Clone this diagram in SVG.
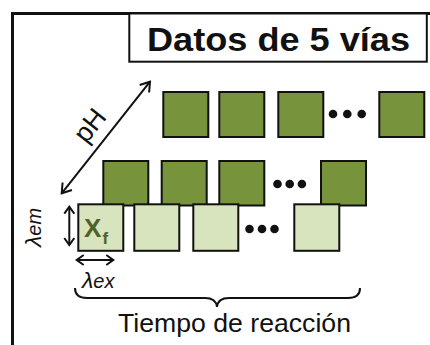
<svg xmlns="http://www.w3.org/2000/svg" width="430" height="345" viewBox="0 0 430 345">
<style>
.dk{fill:#77933C;stroke:#111;stroke-width:2}
.lt{fill:#D7E4BD;stroke:#111;stroke-width:2}
.dot{fill:#111}
.ln{stroke:#111;stroke-width:2;fill:none}
.t{font-family:"Liberation Sans",Arial,sans-serif;fill:#111}
</style>
<defs>
<marker id="ah" markerUnits="userSpaceOnUse" markerWidth="14" markerHeight="14" refX="11" refY="7" orient="auto-start-reverse" viewBox="0 0 14 14">
<path d="M2,1 L11,7 L2,13" fill="none" stroke="#111" stroke-width="2"/>
</marker>
<marker id="as" markerUnits="userSpaceOnUse" markerWidth="12" markerHeight="12" refX="9" refY="6" orient="auto-start-reverse" viewBox="0 0 12 12">
<path d="M2,1 L9,6 L2,11" fill="none" stroke="#111" stroke-width="2"/>
</marker>
</defs>
<rect width="430" height="345" fill="#fff"/>
<g id="frame">
<path d="M12.5,345 V13.5 H430" fill="none" stroke="#111" stroke-width="3"/>
</g>
<g id="title">
<rect x="129.3" y="13.5" width="297.5" height="48.2" fill="#fff" stroke="#111" stroke-width="2"/>
<text class="t" x="147" y="50.5" font-size="34" font-weight="bold" textLength="263" lengthAdjust="spacingAndGlyphs">Datos de 5 vías</text>
</g>
<g id="row3">
<rect class="dk" x="163.3" y="92" width="45" height="45"/>
<rect class="dk" x="219.3" y="92" width="45" height="45"/>
<rect class="dk" x="278.3" y="92" width="45" height="45"/>
<circle class="dot" cx="333" cy="114" r="4.3"/>
<circle class="dot" cx="347.3" cy="114" r="4.3"/>
<circle class="dot" cx="361.7" cy="114" r="4.3"/>
<rect class="dk" x="379.3" y="92" width="45" height="45"/>
</g>
<g id="row2">
<rect class="dk" x="103.3" y="161" width="45" height="44.5"/>
<rect class="dk" x="161.7" y="161" width="45" height="44.5"/>
<rect class="dk" x="219.3" y="161" width="45" height="44.5"/>
<circle class="dot" cx="277.5" cy="184" r="4.3"/>
<circle class="dot" cx="289.7" cy="184" r="4.3"/>
<circle class="dot" cx="301.9" cy="184" r="4.3"/>
<rect class="dk" x="321" y="161" width="45" height="44.5"/>
</g>
<g id="row1">
<rect class="lt" x="78.3" y="204.3" width="45" height="46.5"/>
<rect class="lt" x="134.3" y="204.3" width="45" height="46.5"/>
<rect class="lt" x="193.3" y="204.3" width="45" height="46.5"/>
<circle class="dot" cx="249.5" cy="229" r="4.3"/>
<circle class="dot" cx="262" cy="229" r="4.3"/>
<circle class="dot" cx="274.5" cy="229" r="4.3"/>
<rect class="lt" x="294.3" y="204.3" width="45" height="46.5"/>
<text class="t" x="84" y="237" font-size="26" font-weight="bold" style="fill:#4F6228">X</text>
<text class="t" x="102.5" y="243.5" font-size="17" font-weight="bold" style="fill:#4F6228">f</text>
</g>
<g id="connectors">
<line class="ln" x1="61.7" y1="193.3" x2="150" y2="81.7" marker-start="url(#ah)" marker-end="url(#ah)"/>
<line class="ln" x1="69.3" y1="206.7" x2="69.3" y2="245" marker-start="url(#as)" marker-end="url(#as)"/>
<line class="ln" x1="76.7" y1="260" x2="113.3" y2="260" marker-start="url(#as)" marker-end="url(#as)"/>
<path class="ln" d="M75,288 Q75,298 87,298 L205,298 Q216,298 217,307 Q218,298 229,298 L348,298 Q360,298 360,288"/>
</g>
<g id="labels">
<text class="t" transform="translate(97,131) rotate(-51.6)" font-size="27" text-anchor="middle">pH</text>
<text class="t" transform="translate(41,247) rotate(-90)" font-style="italic"><tspan font-size="23">λ</tspan><tspan font-size="20">em</tspan></text>
<text class="t" x="82" y="287.5" font-style="italic"><tspan font-size="23">λ</tspan><tspan font-size="20">ex</tspan></text>
<text class="t" x="118" y="331.5" font-size="26" textLength="233" lengthAdjust="spacingAndGlyphs">Tiempo de reacción</text>
</g>
</svg>
